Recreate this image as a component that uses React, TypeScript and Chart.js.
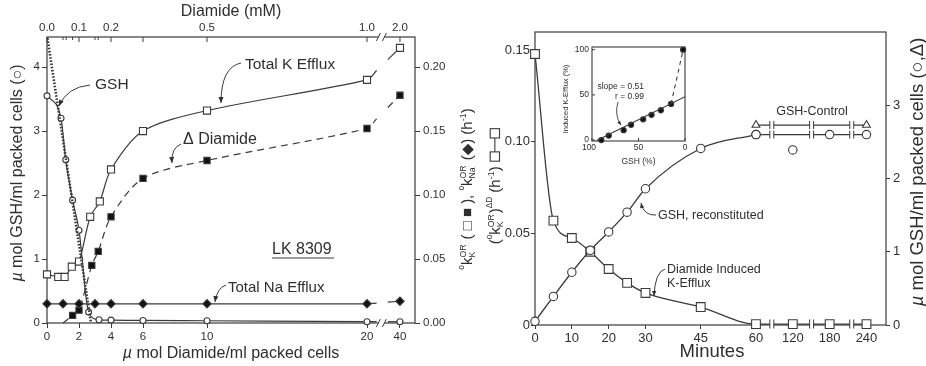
import React, { useEffect, useRef } from "react";
import { Chart, registerables } from "chart.js";

Chart.register(...registerables);

const FONT = "'Liberation Sans', Arial, Helvetica, 'DejaVu Sans', sans-serif";
const INK = "#2f2f2f";
const STROKE = "#3b3b3b";
const WHITE = "#ffffff";

/* ---------- Left panel: diamide titration, LK 8309 ---------- */
// bottom axis: µmol diamide / ml packed cells
const DOSE_TICKS = [0, 2, 4, 6, 10, 20, 40];
const GSH_TICKS = [0, 1, 2, 3, 4];
const RATE_TICKS = [0, 0.05, 0.1, 0.15, 0.2];
// top axis: diamide (mM)
const MM_MAJOR = [0, 0.1, 0.2, 0.3, 0.5, 1.0, 2.0];
const MM_LABELS = ["0.0", "0.1", "0.2", "", "0.5", "1.0", "2.0"];
const MM_MINOR = [0.05, 0.06, 0.08, 0.15, 0.16];
const UMOL_PER_MM = 20;

// GSH content (µmol/ml packed cells)
const GSH_DOSE = [0, 0.875, 1.17, 1.6, 2.0, 2.6, 3.25, 4, 6, 10, 20, 40];
const GSH_LEVEL = [3.55, 3.2, 2.55, 1.92, 1.45, 0.17, 0.05, 0.045, 0.04, 0.035, 0.02, 0.02];
// stoichiometric GSH oxidation line
const GSH_LINEAR_DOSE = [0, 2.75];
const GSH_LINEAR = [4.5, 0];
// total K efflux rate constant (h-1)
const K_DOSE = [0, 0.7, 1.1, 1.55, 2.0, 2.7, 3.3, 4, 6, 10, 20, 40];
const K_TOTAL = [0.038, 0.036, 0.036, 0.044, 0.048, 0.083, 0.095, 0.12, 0.15, 0.166, 0.19, 0.215];
// diamide-induced K efflux (h-1)
const DD_LEAD_IN = 1.0;
const DD_DOSE = [1.6, 2.0, 2.8, 3.2, 4, 6, 10, 20, 40];
const K_DELTA = [0.006, 0.01, 0.045, 0.056, 0.083, 0.113, 0.127, 0.152, 0.178];
// total Na efflux (h-1)
const NA_DOSE = [0, 1, 2, 3, 4, 6, 10, 20, 40];
const NA_TOTAL = [0.015, 0.015, 0.015, 0.015, 0.015, 0.015, 0.015, 0.015, 0.017];

// broken dose axis: 0..20 linear, then 40 placed after the break
const DOSE_BREAK_FROM = 20;
const DOSE_BREAK_POS = 20.9;
const DOSE_STUB_END = 20.6;
const DOSE_TAIL_START = 21.3;
const DOSE_FAR_POS = 22.06;
const DOSE_AXIS_MAX = 23;
const doseToAxis = (d: number) => (d <= DOSE_BREAK_FROM ? d : DOSE_FAR_POS);

/* ---------- Right panel: time course ---------- */
const MIN_TICKS = [0, 10, 20, 30, 45, 60, 120, 180, 240];
const KE_TICKS = [0, 0.05, 0.1, 0.15];
const KE_TICK_LABELS = ["0", "0.05", "0.10", "0.15"];
const GSH_R_TICKS = [0, 1, 2, 3];

const KE_MIN = [0, 5, 10, 15, 20, 25, 30, 45, 60, 120, 180, 240];
const KE_RATE = [0.148, 0.057, 0.0475, 0.04, 0.0306, 0.023, 0.0175, 0.0098, 0.0005, 0.0005, 0.0005, 0.0005];
const REC_MIN = [0, 5, 10, 15, 20, 25, 30, 45, 60];
const REC_GSH = [0.05, 0.39, 0.72, 1.02, 1.27, 1.54, 1.86, 2.41, 2.6];
const REC_LATE_MIN = [120];
const REC_LATE_GSH = [2.39];
const CTRL_CIRCLE_MIN = [60, 180, 240];
const CTRL_CIRCLE_GSH = [2.6, 2.6, 2.6];
const CTRL_TRI_MIN = [60, 240];
const CTRL_TRI_GSH = [2.73, 2.73];

// time axis: 0..60 min linear, then compressed hourly segments
const minutesToAxis = (m: number) => (m <= 60 ? m : 60 + (m - 60) / 6);
const MIN_AXIS_MAX = 95.3;
const MIN_BREAKS = [64.3, 75.1, 86];

/* ---------- Inset: induced K efflux vs GSH ---------- */
const INSET_TICKS = [0, 50, 100];
const IN_GSH = [90, 82, 66, 58, 45, 36, 26, 15, 2];
const IN_EFFLUX = [0, 5, 11, 17, 23, 28, 33, 40, 100];
const FIT_SLOPE = 0.51;
const FIT_R = 0.99;
const FIT_AT_ZERO_GSH = 48;
const FIT_GSH_RANGE = [95, 0];

/* ---------- drawing helpers ---------- */
type Run = { t?: string; sup?: string; sub?: string; rise?: number; scale?: number; italic?: boolean; box?: boolean };

const font = (size: number, italic = false) => `${italic ? "italic " : ""}${size}px ${FONT}`;

function runWidth(ctx: CanvasRenderingContext2D, r: Run, size: number) {
  if (r.box) return size * 2.3;
  if (r.sup !== undefined || r.sub !== undefined) {
    ctx.font = font(size * 0.58);
    return Math.max(ctx.measureText(r.sup ?? "").width, ctx.measureText(r.sub ?? "").width) + size * 0.06;
  }
  ctx.font = font(size * (r.scale ?? 1), r.italic);
  return ctx.measureText(r.t ?? "").width;
}

function drawRuns(ctx: CanvasRenderingContext2D, runs: Run[], x: number, y: number, size: number, align = "left") {
  const ws = runs.map((r) => runWidth(ctx, r, size));
  const total = ws.reduce((a, b) => a + b, 0);
  let cx = align === "center" ? x - total / 2 : align === "right" ? x - total : x;
  ctx.textAlign = "left";
  ctx.textBaseline = "alphabetic";
  runs.forEach((r, i) => {
    if (r.box) {
      const s = size * 0.62;
      const my = y - size * 0.36;
      ctx.lineWidth = 1.1;
      ctx.strokeRect(cx + 1, my - s / 2, s, s);
      ctx.strokeRect(cx + ws[i] - s - 1, my - s / 2, s, s);
      ctx.beginPath();
      ctx.moveTo(cx + 1 + s, my);
      ctx.lineTo(cx + ws[i] - s - 1, my);
      ctx.stroke();
    } else if (r.sup !== undefined || r.sub !== undefined) {
      ctx.font = font(size * 0.58);
      if (r.sup) ctx.fillText(r.sup, cx, y - size * 0.45);
      if (r.sub) ctx.fillText(r.sub, cx, y + size * 0.2);
    } else {
      ctx.font = font(size * (r.scale ?? 1), r.italic);
      ctx.fillText(r.t ?? "", cx, y - (r.rise ?? 0) * size);
    }
    cx += ws[i];
  });
}

function drawRotated(ctx: CanvasRenderingContext2D, runs: Run[], cx: number, cy: number, size: number) {
  ctx.save();
  ctx.translate(cx, cy);
  ctx.rotate(-Math.PI / 2);
  drawRuns(ctx, runs, 0, size * 0.35, size, "center");
  ctx.restore();
}

function text(ctx: CanvasRenderingContext2D, s: string, x: number, y: number, size: number, align: CanvasTextAlign = "left") {
  ctx.font = font(size);
  ctx.textAlign = align;
  ctx.textBaseline = "middle";
  ctx.fillText(s, x, y);
}

function curvedArrow(ctx: CanvasRenderingContext2D, x0: number, y0: number, cx: number, cy: number, x1: number, y1: number, head = 6) {
  ctx.beginPath();
  ctx.moveTo(x0, y0);
  ctx.quadraticCurveTo(cx, cy, x1, y1);
  ctx.stroke();
  const a = Math.atan2(y1 - cy, x1 - cx);
  const w = head * 0.42;
  ctx.beginPath();
  ctx.moveTo(x1, y1);
  ctx.lineTo(x1 - head * Math.cos(a) + w * Math.sin(a), y1 - head * Math.sin(a) - w * Math.cos(a));
  ctx.lineTo(x1 - head * Math.cos(a) - w * Math.sin(a), y1 - head * Math.sin(a) + w * Math.cos(a));
  ctx.closePath();
  ctx.fill();
}

function slashBreak(ctx: CanvasRenderingContext2D, x: number, y: number) {
  ctx.save();
  ctx.fillStyle = WHITE;
  ctx.fillRect(x - 3, y - 3, 6, 6);
  ctx.strokeStyle = STROKE;
  ctx.lineWidth = 1;
  for (const dx of [-3, 3]) {
    ctx.beginPath();
    ctx.moveTo(x + dx - 2, y + 4);
    ctx.lineTo(x + dx + 2, y - 4);
    ctx.stroke();
  }
  ctx.restore();
}

function barBreak(ctx: CanvasRenderingContext2D, x: number, y: number, h = 4) {
  ctx.save();
  ctx.fillStyle = WHITE;
  ctx.fillRect(x - 2, y - 2, 4, 4);
  ctx.strokeStyle = STROKE;
  ctx.lineWidth = 1;
  for (const dx of [-2, 2]) {
    ctx.beginPath();
    ctx.moveTo(x + dx, y - h);
    ctx.lineTo(x + dx, y + h);
    ctx.stroke();
  }
  ctx.restore();
}

type Pt = { x: number; y: number; m: boolean };

function splitAtBreak(doses: number[], vals: number[]) {
  const main: Pt[] = [];
  const tail: Pt[] = [];
  doses.forEach((d, i) => {
    if (d <= DOSE_BREAK_FROM) main.push({ x: d, y: vals[i], m: true });
    else tail.push({ x: doseToAxis(d), y: vals[i], m: true });
  });
  if (main.length && tail.length) {
    const a = main[main.length - 1];
    const b = tail[0];
    const f = (x: number) => a.y + ((b.y - a.y) * (x - a.x)) / (b.x - a.x);
    main.push({ x: DOSE_STUB_END, y: f(DOSE_STUB_END), m: false });
    tail.unshift({ x: DOSE_TAIL_START, y: f(DOSE_TAIL_START), m: false });
  }
  return { main, tail };
}

type Style = { shape: string; r: number; fill: string; dash?: number[]; smooth?: boolean; tension?: number; width?: number; show?: boolean };

function series(data: Pt[], axis: string, st: Style) {
  return {
    data,
    yAxisID: axis,
    borderColor: STROKE,
    borderWidth: st.width ?? 1.2,
    borderDash: st.dash ?? [],
    showLine: st.show ?? true,
    pointRadius: (c: any) => (c.raw && c.raw.m ? st.r : 0),
    pointStyle: st.shape,
    pointBackgroundColor: st.fill,
    pointBorderColor: STROKE,
    pointBorderWidth: 1.1,
    cubicInterpolationMode: st.smooth ? "monotone" : "default",
    tension: st.tension ?? 0,
    fill: false,
    clip: false,
  };
}

const pts = (xs: number[], ys: number[], map: (v: number) => number = (v) => v, m = true): Pt[] =>
  xs.map((x, i) => ({ x: map(x), y: ys[i], m }));

function axisTicks(values: number[], labels: (string | number)[], size: number, pad: number, tickLength = 5) {
  return {
    afterBuildTicks: (s: any) => {
      s.ticks = values.map((v) => ({ value: v }));
    },
    ticks: {
      callback: (_v: any, i: number) => String(labels[i]),
      font: { family: FONT, size },
      color: INK,
      padding: pad,
      maxRotation: 0,
      autoSkip: false,
    },
    grid: { display: true, drawOnChartArea: false, drawTicks: true, tickLength, color: STROKE, lineWidth: 1 },
    border: { display: false },
  };
}

/* ---------- left chart ---------- */
const RATE_LABEL: Run[] = [
  { t: "o", scale: 0.55, rise: 0.55 }, { t: "k" }, { sup: "OR", sub: "K" }, { t: " ( □ ■ ), " },
  { t: "o", scale: 0.55, rise: 0.55 }, { t: "k" }, { sup: "OR", sub: "Na" }, { t: " (◆) (h" },
  { t: "-1", scale: 0.6, rise: 0.45 }, { t: ")" },
];
const DELTA_LABEL: Run[] = [
  { t: "(" }, { t: "o", scale: 0.55, rise: 0.55 }, { t: "k" }, { sup: "OR", sub: "K" }, { t: ")" },
  { t: "ΔD", scale: 0.55, rise: 0.55 }, { t: " (h" }, { t: "-1", scale: 0.6, rise: 0.45 }, { t: ") " }, { box: true },
];

const leftDecor = {
  id: "leftDecor",
  beforeDatasetsDraw(chart: any) {
    const { ctx, chartArea: a } = chart;
    ctx.save();
    ctx.strokeStyle = STROKE;
    ctx.lineWidth = 1.2;
    ctx.strokeRect(a.left, a.top, a.right - a.left, a.bottom - a.top);
    ctx.restore();
  },
  afterDatasetsDraw(chart: any) {
    const { ctx, chartArea: a } = chart;
    const xs = chart.scales.x;
    ctx.save();
    ctx.strokeStyle = STROKE;
    ctx.fillStyle = INK;
    ctx.lineWidth = 1;
    // top diamide (mM) axis, ticks point inward
    MM_MAJOR.forEach((mm, i) => {
      const px = xs.getPixelForValue(doseToAxis(mm * UMOL_PER_MM));
      ctx.beginPath();
      ctx.moveTo(px, a.top);
      ctx.lineTo(px, a.top + 5);
      ctx.stroke();
      if (MM_LABELS[i]) text(ctx, MM_LABELS[i], px, a.top - 9, 11.5, "center");
    });
    MM_MINOR.forEach((mm) => {
      const px = xs.getPixelForValue(doseToAxis(mm * UMOL_PER_MM));
      ctx.beginPath();
      ctx.moveTo(px, a.top);
      ctx.lineTo(px, a.top + 3);
      ctx.stroke();
    });
    const bx = xs.getPixelForValue(DOSE_BREAK_POS);
    slashBreak(ctx, bx, a.top);
    slashBreak(ctx, bx, a.bottom);

    ctx.fillStyle = INK;
    ctx.strokeStyle = STROKE;
    text(ctx, "Diamide (mM)", (a.left + a.right) / 2, 12, 16, "center");
    drawRuns(ctx, [{ t: "µ", italic: true }, { t: " mol Diamide/ml packed cells" }], (a.left + a.right) / 2, 358, 16, "center");
    drawRotated(ctx, [{ t: "µ", italic: true }, { t: " mol GSH/ml packed cells (○)" }], 16, 173, 16);
    drawRotated(ctx, RATE_LABEL, 467, 189, 15);
    drawRotated(ctx, DELTA_LABEL, 495, 186, 15);

    // curve labels
    ctx.lineWidth = 1;
    text(ctx, "GSH", 95, 85, 15.5);
    curvedArrow(ctx, 90, 85, 67, 87, 59, 106);
    text(ctx, "Total K Efflux", 245, 65, 15.5);
    curvedArrow(ctx, 241, 63, 221, 67, 221, 103);
    drawRuns(ctx, [{ t: "Δ Diamide" }], 183, 144, 16);
    curvedArrow(ctx, 181, 144, 171, 148, 172, 163);
    text(ctx, "LK 8309", 272, 250, 16);
    ctx.beginPath();
    ctx.moveTo(272, 258);
    ctx.lineTo(334, 258);
    ctx.stroke();
    text(ctx, "Total Na Efflux", 228, 288, 15);
    curvedArrow(ctx, 226, 285, 217, 288, 215, 302);
    ctx.restore();
  },
};

function leftConfig(): any {
  const gsh = splitAtBreak(GSH_DOSE, GSH_LEVEL);
  const k = splitAtBreak(K_DOSE, K_TOTAL);
  const dd = splitAtBreak(DD_DOSE, K_DELTA);
  dd.main.unshift({ x: DD_LEAD_IN, y: 0, m: false });
  const na = splitAtBreak(NA_DOSE, NA_TOTAL);
  const linear = pts(GSH_LINEAR_DOSE, GSH_LINEAR, (v) => v, false);

  const circle: Style = { shape: "circle", r: 3, fill: WHITE, smooth: true };
  const openSq: Style = { shape: "rect", r: 5, fill: WHITE, tension: 0.3 };
  const fillSq: Style = { shape: "rect", r: 4.4, fill: "#111", tension: 0.3, dash: [7, 5] };
  const diamond: Style = { shape: "rectRot", r: 4.2, fill: "#111" };

  return {
    type: "line",
    data: {
      datasets: [
        { ...series(linear, "y", { shape: "circle", r: 0, fill: WHITE, dash: [1.6, 1.6], width: 2.6 }), clip: 0 },
        series(na.main, "y2", diamond),
        series(na.tail, "y2", diamond),
        series(dd.main, "y2", fillSq),
        series(dd.tail, "y2", { ...fillSq, tension: 0 }),
        series(k.main, "y2", openSq),
        series(k.tail, "y2", { ...openSq, tension: 0 }),
        series(gsh.main, "y", circle),
        series(gsh.tail, "y", { ...circle, smooth: false }),
      ],
    },
    options: {
      responsive: false,
      devicePixelRatio: 1,
      animation: false,
      events: [],
      layout: { padding: { top: 37, left: 0, right: 0, bottom: 0 } },
      plugins: { legend: { display: false }, tooltip: { enabled: false } },
      scales: {
        x: {
          type: "linear",
          position: "bottom",
          min: 0,
          max: DOSE_AXIS_MAX,
          afterFit: (s: any) => { s.height = 43; },
          ...axisTicks(DOSE_TICKS.map(doseToAxis), DOSE_TICKS, 11.5, 2),
        },
        y: {
          type: "linear",
          position: "left",
          min: 0,
          max: 4.47,
          afterFit: (s: any) => { s.width = 47; },
          ...axisTicks(GSH_TICKS, GSH_TICKS, 11.5, 2),
        },
        y2: {
          type: "linear",
          position: "right",
          min: 0,
          max: 0.2235,
          afterFit: (s: any) => { s.width = 95; },
          ...axisTicks(RATE_TICKS, RATE_TICKS.map((v) => v.toFixed(2)), 11.5, 3),
        },
      },
    },
    plugins: [leftDecor],
  };
}

/* ---------- right chart ---------- */
const rightDecor = {
  id: "rightDecor",
  beforeDatasetsDraw(chart: any) {
    const { ctx, chartArea: a } = chart;
    ctx.save();
    ctx.strokeStyle = STROKE;
    ctx.lineWidth = 1.2;
    ctx.strokeRect(a.left, a.top, a.right - a.left, a.bottom - a.top);
    ctx.restore();
  },
  afterDatasetsDraw(chart: any) {
    const { ctx, chartArea: a } = chart;
    const xs = chart.scales.x;
    const yr = chart.scales.yR;
    ctx.save();
    ctx.strokeStyle = STROKE;
    ctx.fillStyle = INK;
    MIN_BREAKS.forEach((b) => {
      const px = xs.getPixelForValue(b);
      barBreak(ctx, px, a.bottom - 1, 4.5);
      barBreak(ctx, px, yr.getPixelForValue(CTRL_CIRCLE_GSH[0]));
      barBreak(ctx, px, yr.getPixelForValue(CTRL_TRI_GSH[0]));
    });
    ctx.fillStyle = INK;
    ctx.strokeStyle = STROKE;
    ctx.lineWidth = 1;
    text(ctx, "Minutes", 232, 352, 18.5, "center");
    drawRotated(ctx, [{ t: "µ", italic: true }, { t: " mol GSH/ml packed cells (○,Δ)" }], 437, 172, 18.5);
    text(ctx, "GSH-Control", 332, 112, 12.5, "center");
    text(ctx, "GSH, reconstituted", 178, 216, 12.5);
    curvedArrow(ctx, 176, 215, 164, 216, 161, 203, 5);
    text(ctx, "Diamide Induced", 187, 270, 12.5);
    text(ctx, "K-Efflux", 187, 284, 12.5);
    curvedArrow(ctx, 185, 269, 175, 272, 174, 296, 5);
    ctx.restore();
  },
};

function rightConfig(): any {
  const sq: Style = { shape: "rect", r: 6.2, fill: WHITE, smooth: true, width: 1.3 };
  const circ: Style = { shape: "circle", r: 4.2, fill: WHITE, smooth: true, width: 1.3 };
  return {
    type: "line",
    data: {
      datasets: [
        series(pts(CTRL_TRI_MIN, CTRL_TRI_GSH, minutesToAxis), "yR", { shape: "triangle", r: 4.5, fill: WHITE, width: 1.2 }),
        series(pts(CTRL_CIRCLE_MIN, CTRL_CIRCLE_GSH, minutesToAxis), "yR", { ...circ, smooth: false, width: 1.2 }),
        series(pts(REC_LATE_MIN, REC_LATE_GSH, minutesToAxis), "yR", { ...circ, show: false }),
        series(pts(REC_MIN, REC_GSH, minutesToAxis), "yR", circ),
        series(pts(KE_MIN, KE_RATE, minutesToAxis), "yL", sq),
      ],
    },
    options: {
      responsive: false,
      devicePixelRatio: 1,
      animation: false,
      events: [],
      layout: { padding: { top: 32, left: 0, right: 0, bottom: 0 } },
      plugins: { legend: { display: false }, tooltip: { enabled: false } },
      scales: {
        x: {
          type: "linear",
          position: "bottom",
          min: 0,
          max: MIN_AXIS_MAX,
          afterFit: (s: any) => { s.height = 41; },
          ...axisTicks(MIN_TICKS.map(minutesToAxis), MIN_TICKS, 13, 2, 4),
        },
        yL: {
          type: "linear",
          position: "left",
          min: 0,
          max: 0.16,
          afterFit: (s: any) => { s.width = 55; },
          ...axisTicks(KE_TICKS, KE_TICK_LABELS, 13, 1, 4),
        },
        yR: {
          type: "linear",
          position: "right",
          min: 0,
          max: 4.0,
          afterFit: (s: any) => { s.width = 40; },
          ...axisTicks(GSH_R_TICKS, GSH_R_TICKS, 13, 3, 4),
        },
      },
    },
    plugins: [rightDecor],
  };
}

/* ---------- inset chart ---------- */
const insetDecor = {
  id: "insetDecor",
  beforeDatasetsDraw(chart: any) {
    const { ctx, chartArea: a } = chart;
    ctx.save();
    ctx.fillStyle = WHITE;
    ctx.fillRect(a.left, a.top, a.right - a.left, a.bottom - a.top);
    ctx.strokeStyle = STROKE;
    ctx.lineWidth = 1.1;
    ctx.strokeRect(a.left, a.top, a.right - a.left, a.bottom - a.top);
    const xs = chart.scales.x;
    const ys = chart.scales.y;
    ctx.fillStyle = INK;
    ctx.lineWidth = 1;
    INSET_TICKS.forEach((v) => {
      const px = xs.getPixelForValue(v);
      ctx.beginPath();
      ctx.moveTo(px, a.bottom);
      ctx.lineTo(px, a.bottom - 3);
      ctx.stroke();
      text(ctx, String(v), px - (v === 100 ? 3 : 0), a.bottom + 7, 8.5, "center");
      const py = ys.getPixelForValue(v);
      ctx.beginPath();
      ctx.moveTo(a.left, py);
      ctx.lineTo(a.left + 3, py);
      ctx.stroke();
      text(ctx, String(v), a.left - 3, py, 8.5, "right");
    });
    text(ctx, "GSH (%)", (a.left + a.right) / 2, a.bottom + 21, 8.5, "center");
    drawRotated(ctx, [{ t: "Induced K-Efflux (%)" }], 10, 62, 7.5);
    ctx.restore();
  },
  afterDatasetsDraw(chart: any) {
    const { ctx } = chart;
    ctx.save();
    ctx.fillStyle = INK;
    ctx.strokeStyle = STROKE;
    ctx.lineWidth = 0.9;
    text(ctx, `slope = ${FIT_SLOPE.toFixed(2)}`, 89, 50, 8.5, "right");
    text(ctx, `r = ${FIT_R.toFixed(2)}`, 89, 60, 8.5, "right");
    curvedArrow(ctx, 63, 65, 59, 78, 66, 88, 4);
    ctx.restore();
  },
};

function insetConfig(): any {
  const fit: Pt[] = FIT_GSH_RANGE.map((g) => ({ x: g, y: FIT_AT_ZERO_GSH - FIT_SLOPE * g, m: false }));
  const n = IN_GSH.length;
  const jump: Pt[] = [n - 2, n - 1].map((i) => ({ x: IN_GSH[i], y: IN_EFFLUX[i], m: false }));
  return {
    type: "line",
    data: {
      datasets: [
        { ...series(fit, "y", { shape: "circle", r: 0, fill: WHITE, width: 1.1 }), clip: 0 },
        series(jump, "y", { shape: "circle", r: 0, fill: WHITE, width: 1.1, dash: [4, 4] }),
        series(pts(IN_GSH, IN_EFFLUX), "y", { shape: "circle", r: 2.6, fill: "#111", show: false }),
      ],
    },
    options: {
      responsive: false,
      devicePixelRatio: 1,
      animation: false,
      events: [],
      layout: { padding: { top: 10, left: 37, right: 10, bottom: 31 } },
      plugins: { legend: { display: false }, tooltip: { enabled: false } },
      scales: {
        x: { type: "linear", reverse: true, min: 0, max: 100, display: false },
        y: { type: "linear", min: -1, max: 103, display: false },
      },
    },
    plugins: [insetDecor],
  };
}

export default function App() {
  const leftRef = useRef<HTMLCanvasElement>(null);
  const rightRef = useRef<HTMLCanvasElement>(null);
  const insetRef = useRef<HTMLCanvasElement>(null);

  useEffect(() => {
    const charts = [
      new Chart(leftRef.current as HTMLCanvasElement, leftConfig()),
      new Chart(rightRef.current as HTMLCanvasElement, rightConfig()),
      new Chart(insetRef.current as HTMLCanvasElement, insetConfig()),
    ];
    return () => charts.forEach((c) => c.destroy());
  }, []);

  const abs = (left: number, top: number, w: number, h: number): React.CSSProperties => ({
    position: "absolute",
    left,
    top,
    width: w,
    height: h,
  });

  return (
    <div style={{ position: "absolute", left: 0, top: 0, width: 926, height: 366, background: WHITE, overflow: "hidden" }}>
      <canvas ref={leftRef} width={510} height={366} style={abs(0, 0, 510, 366)} />
      <canvas ref={rightRef} width={446} height={366} style={abs(480, 0, 446, 366)} />
      <canvas ref={insetRef} width={140} height={135} style={abs(555, 37, 140, 135)} />
    </div>
  );
}
